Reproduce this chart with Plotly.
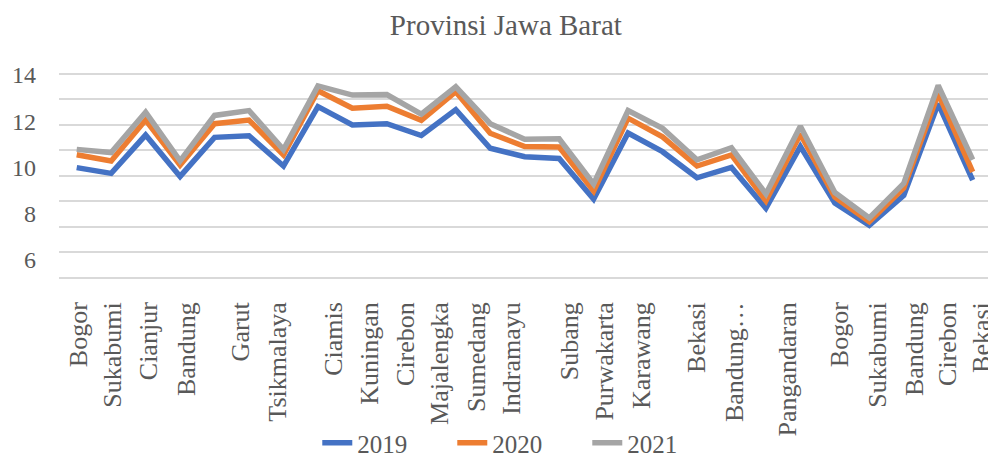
import plotly.graph_objects as go

# --- data -------------------------------------------------------------
regions = ["Bogor", "Sukabumi", "Cianjur", "Bandung", "Garut", "Tasikmalaya",
           "Ciamis", "Kuningan", "Cirebon", "Majalengka", "Sumedang", "Indramayu",
           "Subang", "Purwakarta", "Karawang", "Bekasi", "Bandung Barat",
           "Pangandaran", "Kota Bogor", "Kota Sukabumi", "Kota Bandung",
           "Kota Cirebon", "Kota Bekasi", "Kota Depok", "Kota Cimahi",
           "Kota Tasikmalaya", "Kota Banjar"]

v2019 = [9.99, 9.74, 11.40, 9.61, 11.30, 11.37, 10.06, 12.63, 11.84, 11.89,
         11.38, 12.50, 10.83, 10.46, 10.39, 8.63, 11.49, 10.68, 9.55, 10.00,
         8.23, 10.91, 8.46, 7.49, 8.79, 12.76, 9.45]
v2020 = [10.55, 10.28, 12.05, 10.10, 11.89, 12.05, 10.54, 13.32, 12.56, 12.65,
         12.04, 13.28, 11.48, 10.90, 10.88, 8.98, 12.13, 11.32, 10.06, 10.54,
         8.55, 11.44, 8.71, 7.65, 9.11, 13.19, 9.81]
v2021 = [10.78, 10.64, 12.39, 10.28, 12.25, 12.46, 10.77, 13.53, 13.13, 13.15,
         12.30, 13.49, 11.89, 11.22, 11.24, 9.28, 12.46, 11.69, 10.33, 10.85,
         8.85, 11.78, 8.91, 7.81, 9.31, 13.55, 10.33]

series_names = ["2019", "2020", "2021"]

# tick labels as they appear under the axis
tick_labels = ["Bogor", "Sukabumi", "Cianjur", "Bandung", "Garut", "Tsikmalaya",
               "Ciamis", "Kuningan", "Cirebon", "Majalengka", "Sumedang",
               "Indramayu", "Subang", "Purwakarta", "Karawang", "Bekasi",
               "Bandung…", "Pangandaran", "Bogor", "Sukabumi", "Bandung",
               "Cirebon", "Bekasi"]
y_tick_vals = [6, 8, 10, 12, 14]

# --- layout constants (positions / styles) ---------------------------
tick_label_pos = [0.04, 1.03, 2.08, 3.19, 4.76, 5.84, 7.44, 8.51, 9.53, 10.54,
                  11.61, 12.63, 14.29, 15.33, 16.40, 17.99, 19.10, 20.64,
                  22.15, 23.23, 24.30, 25.26, 26.27]
colors = ["#4472C4", "#ED7D31", "#A5A5A5"]
text_color = "#595959"
serif = "Liberation Serif, Times New Roman, serif"

fig = go.Figure()
x_idx = list(range(len(regions)))
for name, vals, col in zip(series_names, [v2019, v2020, v2021], colors):
    fig.add_trace(go.Scatter(
        x=x_idx, y=vals, name=name, mode="lines",
        line=dict(color=col, width=5.5),
        customdata=regions,
        hovertemplate="%{customdata}: %{y}<extra>" + name + "</extra>",
    ))

fig.update_layout(
    template="none",
    width=988, height=459,
    margin=dict(l=59, r=0, t=60, b=163, autoexpand=False),
    paper_bgcolor="white", plot_bgcolor="white",
    font=dict(family=serif, color=text_color, size=22),
    title=dict(text="Provinsi Jawa Barat", x=0.512, xanchor="center",
               y=0.945, yref="container", yanchor="middle",
               font=dict(family=serif, size=29, color=text_color)),
    xaxis=dict(range=[-0.514, 26.445], tickmode="array",
               tickvals=tick_label_pos, ticktext=tick_labels,
               tickangle=-90, showgrid=False, zeroline=False, showline=False,
               ticks="", automargin=False, ticklabeloverflow="allow",
               tickfont=dict(family=serif, size=26, color=text_color)),
    yaxis=dict(range=[4.433, 14.649], tickmode="array", tickvals=y_tick_vals,
               showgrid=False, zeroline=False, showline=False, ticks="",
               automargin=False, ticklabelstandoff=22,
               tickfont=dict(family=serif, size=24, color=text_color)),
    yaxis2=dict(range=[-1.716, 7.550], overlaying="y", side="left",
                tickmode="linear", tick0=0, dtick=1,
                showticklabels=False, showgrid=True, gridcolor="#D9D9D9",
                gridwidth=2, zeroline=False, showline=False, ticks="",
                automargin=False),
    legend=dict(orientation="h", x=0.496, xanchor="center", y=-0.623,
                yanchor="middle", entrywidth=90, entrywidthmode="pixels",
                font=dict(family=serif, size=25, color=text_color),
                bgcolor="rgba(0,0,0,0)"),
    showlegend=True,
)
# an invisible trace so the grid axis is active
fig.add_trace(go.Scatter(x=[None], y=[None], yaxis="y2", showlegend=False,
                         hoverinfo="skip"))

fig.write_html("out.html",
               config={"displayModeBar": False},
               post_script="document.body.style.margin='0px';")
